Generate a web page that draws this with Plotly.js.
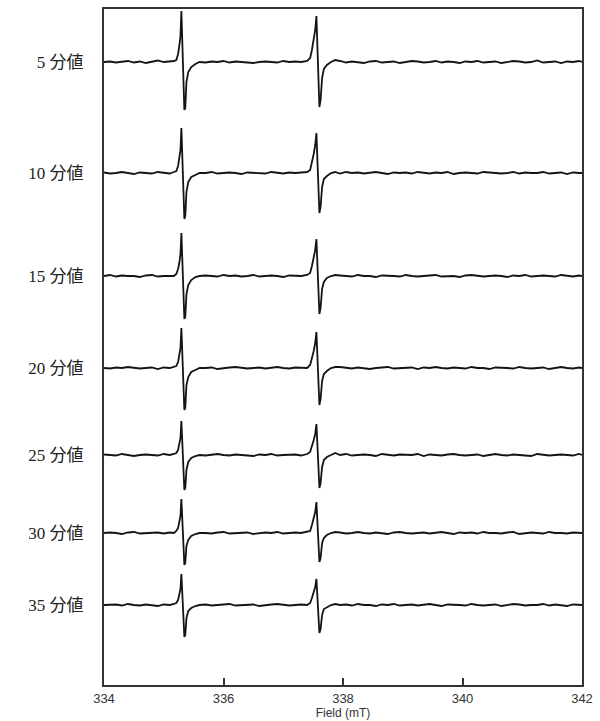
<!DOCTYPE html>
<html>
<head>
<meta charset="utf-8">
<script src="https://cdn.plot.ly/plotly-3.0.1.min.js"></script>
<style>html,body{margin:0;padding:0;background:#fff;}#chart{width:600px;height:721px;}</style>
</head>
<body>
<div id="chart"></div>
<script>
// Magnetic field (mT), shared by all spectra
var fieldMT = [334.0,334.1,334.2,334.3,334.4,334.5,334.6,334.7,334.8,334.9,335.0,335.1,
  335.17,335.21,335.24,335.26,335.28,335.295,335.32,335.345,335.36,335.38,335.41,335.46,335.53,335.6,
  335.7,335.8,335.9,336.0,336.1,336.2,336.3,336.4,336.5,336.6,336.7,336.8,336.9,337.0,337.1,337.2,337.3,
  337.4,337.45,337.48,337.51,337.535,337.555,337.58,337.605,337.625,337.65,337.68,337.73,337.8,337.87,
  337.95,338.05,338.15,338.25,338.35,338.45,338.55,338.65,338.75,338.85,
  338.95,339.05,339.15,339.25,339.35,339.45,339.55,339.65,339.75,339.85,
  339.95,340.05,340.15,340.25,340.35,340.45,340.55,340.65,340.75,340.85,
  340.95,341.05,341.15,341.25,341.35,341.45,341.55,341.65,341.75,341.85,341.95,342.0];

// Category labels (time) and the stacking baseline of each spectrum
var labels = ["5 分値","10 分値","15 分値","20 分値","25 分値","30 分値","35 分値"];
var offsets = [623, 512, 409, 317, 230, 152, 80];

// EPR derivative signal of each spectrum (arbitrary units, relative to its baseline)
var sig5 = [0,0.5,-0.5,0,1,-0.5,0.5,-1,0,1.5,0,0.5,
  1,2,8,16,26,51,5,-48,-46,-20,-10,-5,-2,0,
  -0.5,0.5,0,1,-0.5,0.5,0,-0.5,-1,0,0.5,0,-0.5,1,0,0.5,0,
  1,4,12,22,32,46,0,-45,-38,-16,-7,-3,0,2,
  1,-0.5,0.5,0,-1,0.5,1,-0.5,0,0.5,-1,0,1,0.5,-0.5,0,1,-0.5,0.5,0,-1,0.5,0,1,-0.5,0,0.5,-1,0,1,0.5,-0.5,0,1.5,-0.5,0,0.5,-1,0.5,0,1,0];
var sig10 = [0.5,-0.5,0,1,0,-1,0.5,0,-0.5,1,0.5,-0.5,
  1,2,7,14,23,45,4,-46,-43,-19,-9,-4,-2,0,
  0,1,-0.5,0,0.5,0,-1,0.5,0,0,-0.5,1,0,-0.5,0.5,0,0.5,
  1,3,10,19,28,40,0,-40,-34,-14,-6,-3,0,1,
  -0.5,1,0,0.5,-0.5,0,1,0,-1,0.5,0,0.5,-0.5,1,0,-0.5,0.5,0,1,-1,0,0.5,0,-0.5,1,0.5,0,-0.5,0,1,-0.5,0.5,0,0,1,-0.5,0,0.5,-1,0.5,0,0];
var sig15 = [0,1,-0.5,0.5,0,0,-1,0.5,1,-0.5,0,0,
  0,2,7,13,22,43,4,-43,-41,-18,-9,-4,-1,0,
  0.5,0,-0.5,1,0,0.5,-0.5,0,1,-0.5,0,0.5,0,-1,0.5,0,0,
  1,3,10,18,26,37,0,-38,-32,-13,-6,-2,0,1,
  0.5,0,-0.5,1,0,0,-1,0.5,0.5,0,-0.5,1,0,-0.5,0,0.5,1,-0.5,0,0,-1,0.5,1,0,-0.5,0,0.5,0,-1,0.5,0,1,-0.5,0,0.5,0,-0.5,1,0,-0.5,0.5,0];
var sig20 = [0,-0.5,0.5,0,1,0,-0.5,0,0.5,-1,0.5,0,
  1,2,6,12,20,40,4,-42,-40,-17,-9,-4,-2,0,
  0,0.5,-1,0,0.5,1,0,-0.5,0,0.5,-0.5,0,1,0,-0.5,0.5,0,
  0,3,9,17,25,36,0,-37,-31,-13,-6,-3,0,1,
  1,0,-0.5,0.5,0,-1,0,0.5,1,-0.5,0,0,0.5,-1,0.5,0,1,0,-0.5,0.5,0,-0.5,1,0,0,-1,0.5,0.5,0,-0.5,1,0,-0.5,0,0.5,-1,0,1,0,-0.5,0.5,0];
var sig25 = [0.5,0,-0.5,1,0,-1,0,0.5,0,-0.5,1,0,
  1,2,5,11,17,34,3,-35,-33,-15,-7,-3,-1,0,
  -0.5,0,1,0,-0.5,0.5,0,0,-1,0.5,0,1,-0.5,0,0,0.5,-0.5,
  1,3,8,15,21,31,0,-33,-28,-12,-5,-2,0,2,
  0,1,-0.5,0,0.5,0,-1,1,0,-0.5,0.5,0,0,1,-1,0.5,0,-0.5,0.5,1,0,-0.5,0,0.5,-1,0,1,0,-0.5,0.5,0,0,-1,1,0.5,-0.5,0,0.5,0,-0.5,1,0];
var sig30 = [0,0.5,0,-1,0.5,1,-0.5,0,0,0.5,-0.5,0.5,
  0,2,5,11,17,34,3,-32,-30,-13,-7,-3,-1,0,
  0,-0.5,0.5,1,-0.5,0,0,0.5,-1,0,0.5,0,1,-0.5,0,0.5,0,
  1,2,8,15,21,31,0,-29,-25,-10,-5,-2,0,1,
  0.5,-0.5,0,1,0,-0.5,0.5,0,-1,0.5,1,0,-0.5,0,0.5,-0.5,0,1,0,-1,0.5,0,0.5,-0.5,1,0,0,-0.5,0.5,1,-1,0,0.5,0,-0.5,1,0,0,-0.5,0.5,0,0];
var sig35 = [0,0,0.5,-0.5,1,0,-0.5,0.5,0,-1,0.5,0,
  1,2,5,10,16,31,3,-32,-30,-13,-6,-3,-1,0,
  0.5,-0.5,0,0.5,1,-0.5,0,0,0.5,-1,0,0.5,1,0,-0.5,0,0.5,
  0,2,7,12,18,26,0,-28,-24,-10,-4,-2,0,1,
  0,0.5,-0.5,1,0,0,-1,0.5,0,1,-0.5,0,0.5,-0.5,0,1,0,-1,0.5,0.5,0,-0.5,1,0,-0.5,0,0.5,-1,0,1,0.5,-0.5,0,0,1,-0.5,0.5,0,-1,0.5,0,0];

var signals = [sig5, sig10, sig15, sig20, sig25, sig30, sig35];

var traces = signals.map(function (s, i) {
  return {
    x: fieldMT,
    y: s.map(function (v) { return offsets[i] + v; }),
    type: 'scatter',
    mode: 'lines',
    name: labels[i],
    line: {color: '#141414', width: 1.8},
    hoverinfo: 'skip'
  };
});

var layout = {
  width: 600,
  height: 721,
  margin: {l: 104, r: 18, t: 9, b: 36, pad: 0},
  paper_bgcolor: '#ffffff',
  plot_bgcolor: '#ffffff',
  showlegend: false,
  xaxis: {
    range: [334, 342],
    tickvals: [334, 336, 338, 340, 342],
    ticktext: ['334', '336', '338', '340', '342'],
    ticks: 'inside',
    ticklen: 7,
    tickwidth: 2,
    tickcolor: '#333',
    showline: true,
    linecolor: '#333',
    linewidth: 2,
    mirror: true,
    showgrid: false,
    zeroline: false,
    tickfont: {family: 'Liberation Sans, Arial, sans-serif', size: 13, color: '#333'},
    title: {text: 'Field (mT)', font: {family: 'Liberation Sans, Arial, sans-serif', size: 12, color: '#333'}, standoff: 3}
  },
  yaxis: {
    range: [0, 676],
    tickvals: offsets,
    ticktext: labels,
    ticks: '',
    ticklabelstandoff: 15,
    showline: true,
    linecolor: '#333',
    linewidth: 2,
    mirror: true,
    showgrid: false,
    zeroline: false,
    tickfont: {family: 'Liberation Serif, Noto Sans CJK JP, serif', size: 17, color: '#222'}
  }
};

Plotly.newPlot('chart', traces, layout, {staticPlot: true, displayModeBar: false});
</script>
</body>
</html>
